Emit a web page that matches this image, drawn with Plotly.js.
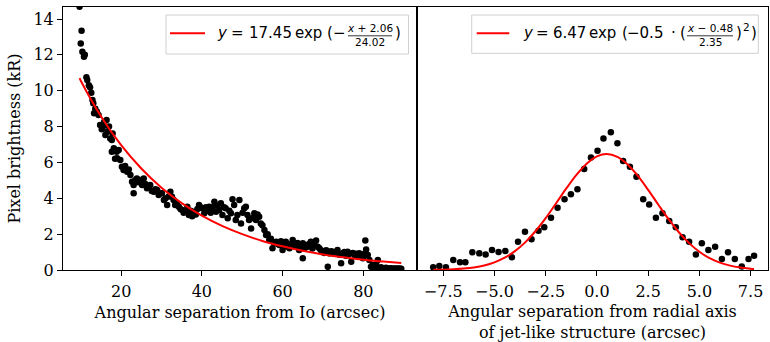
<!DOCTYPE html>
<html>
<head>
<meta charset="utf-8">
<script src="https://cdn.plot.ly/plotly-3.0.1.min.js"></script>
<style>html,body{margin:0;padding:0;background:#fff;}#chart{width:770px;height:342px;}</style>
</head>
<body>
<div id="chart"></div>
<script>
// ---- Left panel: brightness vs angular separation from Io ----
const ioSepX = [
  9.7, 10.0, 10.2, 10.4, 10.8, 11.0, 11.4, 11.6, 12.0, 12.3, 12.6,
  12.9, 13.1, 13.3, 13.6, 14.0, 14.4, 14.8, 15.2, 15.5, 15.8, 16.1, 16.4, 16.6, 17.0, 17.3, 17.7, 17.7, 17.9,
  18.2, 18.5, 18.9, 19.0, 19.4, 19.8, 20.2, 20.6, 21.0, 21.5, 21.9, 22.3, 22.7, 23.1, 23.1, 23.5, 23.9,
  24.3, 24.8, 25.2, 25.6, 26.0, 26.4, 26.8, 27.2, 27.6, 28.1, 28.5, 28.9, 29.3, 29.7, 30.1, 30.6,
  31.0, 31.4, 31.8, 32.2, 32.6, 33.0, 33.4, 33.8, 34.3, 34.7, 35.1, 35.5, 35.9, 36.4, 36.8,
  37.2, 37.6, 38.1, 38.5, 38.9, 39.3, 39.7, 40.1, 40.6, 41.0, 41.4, 41.8, 42.2, 42.7, 43.1, 43.5, 43.9,
  44.3, 44.7, 45.1, 45.5, 45.9, 46.4, 46.8, 47.2, 47.6, 48.0, 48.4, 48.8, 49.3, 49.7, 50.1, 50.5, 50.9,
  51.3, 51.7, 52.2, 52.6, 53.0, 53.4, 53.8, 54.2, 54.6, 55.0,
  55.5, 55.9, 56.3, 56.7, 57.1, 57.5, 57.9, 58.4, 58.8, 59.2, 59.6, 60.0, 60.4, 60.8, 61.2, 61.7, 62.1,
  62.5, 62.9, 63.3, 63.7, 64.1, 64.5, 65.0, 65.0, 65.4, 65.8, 66.2, 66.6, 67.0, 67.4, 67.9, 68.3, 68.7,
  69.1, 69.5, 69.9,
  70.3, 70.8, 71.2, 71.6, 72.0, 72.4, 72.8, 73.2, 73.6, 74.1, 74.5, 74.9, 75.3, 75.7, 76.1, 76.5, 77.0,
  77.4, 77.8, 78.2, 78.6, 79.0, 79.4, 79.9, 80.3, 80.5, 80.7, 81.1, 81.5,
  81.9, 82.3, 82.8, 83.2, 83.6, 84.0, 84.4, 84.8, 85.2, 85.6, 86.1, 86.5, 86.9, 87.3, 87.7, 88.1, 88.6,
  89.0, 89.4
];
const ioBright = [
  14.68, 12.64, 13.35, 12.18, 11.9, 12.0, 10.75, 10.6, 10.3, 10.2, 9.89,
  9.48, 9.3, 8.74, 9.0, 8.83, 8.64, 8.09, 7.85, 8.0, 8.27, 7.53, 8.37, 7.71, 8.0, 7.34, 7.25, 6.6, 7.62,
  6.79, 6.2, 6.6, 6.23, 6.69, 6.13, 5.76, 5.58, 5.8, 5.48, 5.6, 5.3, 4.92, 4.74, 4.28, 5.0, 5.11,
  4.9, 5.02, 4.74, 5.11, 4.8, 4.56, 4.65, 4.74, 4.4, 4.37, 4.5, 4.46, 4.18, 4.3, 4.28, 3.9,
  4.0, 3.63, 4.1, 4.37, 4.09, 3.9, 3.63, 3.7, 3.53, 3.4, 3.35, 3.2, 3.25, 3.53, 3.07,
  3.3, 3.0, 3.25, 3.1, 3.4, 3.63, 3.5, 3.44, 3.16, 3.5, 3.3, 3.53, 3.2, 3.5, 3.81, 3.25, 3.6,
  3.35, 3.72, 3.07, 3.5, 3.44, 2.88, 3.3, 3.16, 3.95, 3.63, 2.79, 3.07, 3.9, 2.6, 3.2, 3.44, 3.53,
  3.07, 2.79, 2.32, 2.9, 3.16, 2.79, 3.1, 2.97, 2.6, 2.5,
  2.23, 1.95, 2.0, 1.67, 1.75, 1.21, 1.5, 1.58, 1.45, 1.39, 1.6, 1.12, 1.5, 1.58, 1.3, 1.21, 1.45,
  1.67, 1.4, 1.3, 1.5, 1.12, 1.35, 0.65, 1.49, 1.2, 1.39, 1.30, 1.45, 1.58, 1.2, 1.4, 1.64, 1.3,
  1.21, 1.1, 1.02,
  0.95, 1.1, 0.18, 0.93, 1.05, 1.02, 0.9, 0.98, 1.12, 0.85, 0.37, 0.93, 1.0, 0.8, 1.02, 0.9, 0.46,
  0.95, 0.84, 0.9, 0.75, 0.93, 0.8, 0.65, 0.9, 1.64, 1.15, 0.84, 0.56,
  0.18, 0.28, 0.09, 0.3, 0.56, 0.09, 0.15, 0.1, 0.09, 0.12, 0.08, 0.09, 0.1, 0.07, 0.09, 0.08, 0.08,
  0.09, 0.07
];
// fitted exponential curve
const expFitX = [9.7, 10, 15, 20, 25, 30, 35, 40, 45, 50, 55, 60, 65, 70, 75, 80, 85, 89.4];
const expFitY = [10.70, 10.56, 8.58, 6.96, 5.66, 4.59, 3.73, 3.03, 2.46, 2.00, 1.62, 1.32, 1.07, 0.87, 0.71, 0.57, 0.47, 0.39];

// ---- Right panel: brightness vs separation from radial axis ----
const radSepX = [
  -7.99, -7.69, -7.37, -7.01, -6.68, -6.42, -6.08, -5.74, -5.43, -5.12, -4.80, -4.47, -4.15, -3.85,
  -3.51, -3.19, -2.85, -2.57, -2.24, -1.92, -1.58, -1.27, -0.95, -0.62, -0.29, 0.03, 0.32, 0.68,
  1.00, 1.28, 1.61, 1.93, 2.26, 2.55, 2.88, 3.20, 3.53, 3.85, 4.18, 4.50, 4.83, 5.12, 5.44, 5.77,
  6.10, 6.40, 6.73, 7.07, 7.40, 7.67
];
const radBright = [
  0.15, 0.22, 0.15, 0.56, 0.43, 0.43, 0.99, 0.93, 0.87, 1.12, 1.00, 1.06, 0.71, 1.58,
  2.14, 1.71, 2.19, 2.38, 2.92, 3.47, 3.94, 4.22, 4.50, 5.63, 6.28, 6.65, 7.34, 7.68,
  7.07, 6.08, 5.76, 5.20, 3.94, 3.66, 2.92, 3.16, 2.73, 2.38, 1.82, 1.58, 0.87, 1.49, 1.12, 1.30,
  0.61, 0.99, 0.61, 0.19, 0.61, 0.80
];
// fitted gaussian curve
const gaussFitX = [-7.99, -7.5, -7, -6.5, -6, -5.5, -5, -4.5, -4, -3.5, -3, -2.5, -2, -1.5, -1, -0.5, 0, 0.48,
  1, 1.5, 2, 2.5, 3, 3.5, 4, 4.5, 5, 5.5, 6, 6.5, 7, 7.5, 7.67];
const gaussFitY = [0.01, 0.020, 0.041, 0.079, 0.145, 0.254, 0.427, 0.685, 1.051, 1.542, 2.161, 2.895, 3.707, 4.537, 5.306, 5.931, 6.336, 6.47,
  6.313, 5.888, 5.249, 4.471, 3.641, 2.833, 2.107, 1.498, 1.018, 0.660, 0.410, 0.243, 0.138, 0.075, 0.060];

const yTicks = [0, 2, 4, 6, 8, 10, 12, 14];
const xTicksLeft = [20, 40, 60, 80];
const xTicksRight = [-7.5, -5.0, -2.5, 0.0, 2.5, 5.0, 7.5];

// ---- geometry helpers (pixels -> paper) ----
const L = 63, R = 768, T = 7, B = 270;
const PX = p => (p - L) / (R - L);
const PY = p => (B - p) / (B - T);

const sans = 'DejaVu Sans, sans-serif';
const serif = 'DejaVu Serif, serif';
const FS = 16;

const traces = [
  {x: ioSepX, y: ioBright, type: 'scatter', mode: 'markers', xaxis: 'x', yaxis: 'y',
   marker: {color: 'black', size: 6.5}, showlegend: false, hoverinfo: 'skip'},
  {x: expFitX, y: expFitY, type: 'scatter', mode: 'lines', xaxis: 'x', yaxis: 'y',
   line: {color: 'red', width: 2, shape: 'spline'}, showlegend: false},
  {x: radSepX, y: radBright, type: 'scatter', mode: 'markers', xaxis: 'x2', yaxis: 'y2',
   marker: {color: 'black', size: 6.5}, showlegend: false},
  {x: gaussFitX, y: gaussFitY, type: 'scatter', mode: 'lines', xaxis: 'x2', yaxis: 'y2',
   line: {color: 'red', width: 2, shape: 'spline'}, showlegend: false}
];

const split = (354 / 705);
const axBase = {
  showline: true, linecolor: 'black', linewidth: 1, mirror: true,
  ticks: 'outside', ticklen: 5, tickwidth: 1, tickcolor: 'black',
  showgrid: false, zeroline: false,
  tickfont: {family: serif, size: FS, color: 'black'}
};

const ann = (text, px, py, opts) => Object.assign({
  text: text, x: PX(px), y: PY(py), xref: 'paper', yref: 'paper',
  xanchor: 'left', yanchor: 'middle', showarrow: false, borderpad: 0,
  font: {family: sans, size: 15, color: 'black'}
}, opts || {});

const small = {family: sans, size: 10.5, color: 'black'};

const annotations = [
  // left legend
  ann('<i>y</i>', 216, 33),
  ann('=', 230, 33),
  ann('17.45', 248, 33),
  ann('exp', 294, 33),
  ann('(', 326, 33),
  ann('−', 332, 33),
  ann('<i>x</i> + 2.06', 370, 28.5, {xanchor: 'center', font: small}),
  ann('24.02', 370, 42, {xanchor: 'center', font: small}),
  ann(')', 394, 33),
  // right legend
  ann('<i>y</i>', 522, 33),
  ann('=', 535, 33),
  ann('6.47', 552, 33),
  ann('exp', 588, 33),
  ann('(', 621, 33),
  ann('−0.5', 626, 33),
  ann('·', 673, 33, {xanchor: 'center'}),
  ann('(', 679, 33),
  ann('<i>x</i> − 0.48', 710, 28.5, {xanchor: 'center', font: small}),
  ann('2.35', 710, 42, {xanchor: 'center', font: small}),
  ann(')', 735, 33),
  ann('2', 742, 27, {font: small}),
  ann(')', 750, 33)
];

const shapes = [
  // legend frames
  {type: 'rect', xref: 'paper', yref: 'paper', x0: PX(166), x1: PX(408.5), y0: PY(15), y1: PY(54),
   line: {color: '#d0d0d0', width: 1}, fillcolor: 'rgba(255,255,255,0.8)', layer: 'above'},
  {type: 'rect', xref: 'paper', yref: 'paper', x0: PX(471.7), x1: PX(758.3), y0: PY(15), y1: PY(53.3),
   line: {color: '#d0d0d0', width: 1}, fillcolor: 'rgba(255,255,255,0.8)', layer: 'above'},
  // legend line samples
  {type: 'line', xref: 'paper', yref: 'paper', x0: PX(170), x1: PX(205), y0: PY(33.3), y1: PY(33.3),
   line: {color: 'red', width: 2}, layer: 'above'},
  {type: 'line', xref: 'paper', yref: 'paper', x0: PX(476.7), x1: PX(509.3), y0: PY(33.3), y1: PY(33.3),
   line: {color: 'red', width: 2}, layer: 'above'},
  // fraction bars
  {type: 'line', xref: 'paper', yref: 'paper', x0: PX(348), x1: PX(392), y0: PY(35.8), y1: PY(35.8),
   line: {color: 'black', width: 0.8}, layer: 'above'},
  {type: 'line', xref: 'paper', yref: 'paper', x0: PX(687), x1: PX(733), y0: PY(35.8), y1: PY(35.8),
   line: {color: 'black', width: 0.8}, layer: 'above'}
];

const layout = {
  width: 770, height: 342,
  margin: {l: L, r: 770 - R, t: T, b: 342 - B, pad: 0},
  paper_bgcolor: 'white', plot_bgcolor: 'white',
  showlegend: false,
  xaxis: Object.assign({}, axBase, {
    domain: [0, split], range: [5.6, 93.3], tickvals: xTicksLeft, ticklabelstandoff: 2,
    title: {text: 'Angular separation from Io (arcsec)', font: {family: serif, size: FS, color: 'black'}, standoff: 6}
  }),
  yaxis: Object.assign({}, axBase, {
    range: [0, 14.67], tickvals: yTicks, anchor: 'x',
    title: {text: 'Pixel brightness (kR)', font: {family: serif, size: FS, color: 'black'}, standoff: 8}
  }),
  xaxis2: Object.assign({}, axBase, {
    domain: [split, 1], range: [-8.78, 8.35], anchor: 'y2', ticklabelstandoff: 2,
    tickvals: xTicksRight, tickformat: '.1f',
    title: {text: 'Angular separation from radial axis<br>of jet-like structure (arcsec)', font: {family: serif, size: FS, color: 'black'}, standoff: 6}
  }),
  yaxis2: Object.assign({}, axBase, {
    range: [0, 14.67], anchor: 'x2', ticks: '', showticklabels: false, tickvals: yTicks
  }),
  annotations: annotations,
  shapes: shapes
};

Plotly.newPlot('chart', traces, layout, {displayModeBar: false, staticPlot: true});
</script>
</body>
</html>
